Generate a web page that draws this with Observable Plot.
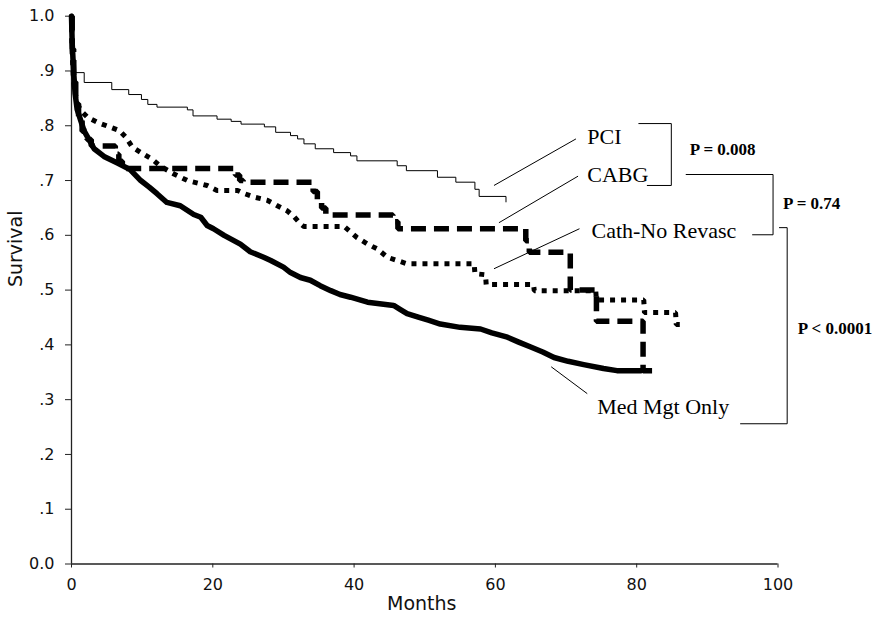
<!DOCTYPE html>
<html>
<head>
<meta charset="utf-8">
<script src="https://cdn.jsdelivr.net/npm/d3@7"></script>
<script src="https://cdn.jsdelivr.net/npm/@observablehq/plot@0.6"></script>
<style>
  html, body { margin: 0; padding: 0; background: #fff; }
</style>
</head>
<body>
<div id="chart"></div>
<script>
// ---- Axis ticks ----
const xTicks = [0, 20, 40, 60, 80, 100];
const yTicks = [0, 0.1, 0.2, 0.3, 0.4, 0.5, 0.6, 0.7, 0.8, 0.9, 1.0];
const yTickLabels = ["0.0", ".1", ".2", ".3", ".4", ".5", ".6", ".7", ".8", ".9", "1.0"];

// ---- PCI (thin solid) ----
const pciMonths   = [0, 0.1, 0.3, 0.6, 1.8, 5.7, 8.1, 9.9, 10.8, 12.1, 16.4, 17.2, 20.6, 22.6, 24.0, 27.3, 28.9, 31.0, 32.0, 32.9, 34.5, 37.1, 39.5, 40.4, 46.1, 47.4, 51.8, 54.4, 57.1, 57.7, 61.5];
const pciSurvival = [1.0, 0.95, 0.92, 0.897, 0.879, 0.866, 0.857, 0.848, 0.839, 0.834, 0.829, 0.818, 0.812, 0.808, 0.803, 0.798, 0.788, 0.782, 0.776, 0.767, 0.758, 0.751, 0.745, 0.736, 0.727, 0.718, 0.706, 0.697, 0.684, 0.671, 0.661];

// ---- CABG (thick dashed) ----
const cabgMonths   = [0, 0.1, 0.3, 0.6, 1.0, 1.5, 2.2, 2.8, 6.2, 6.7, 7.2, 23.2, 23.8, 24.3, 34.2, 34.8, 35.4, 36.0, 45.5, 46.2, 64.3, 64.8, 70.6, 74.3, 80.9, 83.0];
const cabgSurvival = [1.0, 0.94, 0.88, 0.84, 0.81, 0.79, 0.775, 0.763, 0.748, 0.735, 0.722, 0.71, 0.70, 0.697, 0.68, 0.665, 0.65, 0.637, 0.625, 0.612, 0.59, 0.569, 0.50, 0.443, 0.353, 0.353];

// ---- Cath-No Revasc (thick dotted) ----
const cathMonths   = [0, 0.1, 0.3, 0.7, 1.3, 2.3, 3.7, 5.6, 6.8, 7.7, 8.6, 10.1, 11.4, 12.6, 14.5, 16.4, 19.2, 20.6, 23.5, 24.5, 25.8, 27.7, 29.0, 30.5, 31.5, 32.4, 32.9, 38.6, 40.4, 41.9, 43.3, 44.7, 46.1, 47.5, 57.0, 57.1, 58.6, 58.7, 65.4, 65.5, 74.2, 74.3, 81.0, 81.1, 85.5, 85.6, 86.6];
const cathSurvival = [1.0, 0.93, 0.88, 0.845, 0.828, 0.815, 0.806, 0.797, 0.791, 0.779, 0.761, 0.749, 0.739, 0.726, 0.712, 0.700, 0.691, 0.682, 0.682, 0.676, 0.670, 0.664, 0.655, 0.645, 0.634, 0.621, 0.616, 0.616, 0.596, 0.584, 0.575, 0.560, 0.554, 0.548, 0.548, 0.530, 0.528, 0.510, 0.510, 0.499, 0.499, 0.482, 0.482, 0.459, 0.459, 0.437, 0.437];

// ---- Med Mgt Only (thick solid) ----
const medMonths   = [0, 0.1, 0.3, 0.5, 0.8, 1.3, 1.8, 2.6, 3.2, 4.6, 6.5, 8.3, 9.8, 11.0, 12.1, 13.5, 15.4, 17.3, 18.3, 19.2, 20.1, 21.6, 23.9, 25.3, 27.2, 28.2, 30.0, 31.0, 32.4, 33.8, 35.2, 36.7, 38.0, 39.5, 41.9, 45.6, 46.5, 47.5, 49.2, 50.5, 52.2, 55.0, 57.9, 59.5, 61.7, 63.3, 65.0, 66.7, 68.3, 70.3, 72.5, 75.3, 77.2, 80.6];
const medSurvival = [1.0, 0.95, 0.90, 0.86, 0.83, 0.81, 0.79, 0.772, 0.758, 0.744, 0.732, 0.72, 0.70, 0.688, 0.676, 0.66, 0.654, 0.638, 0.633, 0.618, 0.612, 0.600, 0.584, 0.570, 0.560, 0.554, 0.542, 0.532, 0.523, 0.518, 0.508, 0.499, 0.492, 0.487, 0.478, 0.472, 0.465, 0.457, 0.450, 0.445, 0.438, 0.432, 0.429, 0.422, 0.414, 0.405, 0.396, 0.387, 0.377, 0.370, 0.364, 0.357, 0.353, 0.353];

// ---- Curve labels (anchor in data units) ----
const groupNames  = ["PCI", "CABG", "Cath-No Revasc", "Med Mgt Only"];
const groupLabelX = [73.0, 73.0, 73.6, 74.4];
const groupLabelY = [0.767, 0.697, 0.596, 0.274];
// leader lines
const leaderX1 = [59.8, 60.5, 59.8, 67.9];
const leaderY1 = [0.691, 0.623, 0.539, 0.360];
const leaderX2 = [71.4, 71.7, 71.9, 73.0];
const leaderY2 = [0.776, 0.708, 0.612, 0.311];

// ---- P values ----
const pTexts = ["P = 0.008", "P = 0.74", "P < 0.0001"];
const pX = [87.5, 100.7, 102.8];
const pY = [0.747, 0.648, 0.420];
// brackets (four-point polylines)
const bracketX = [[80.3, 84.9, 84.9, 81.5], [87.0, 99.3, 99.3, 96.4], [100.2, 101.3, 101.3, 94.7]];
const bracketY = [[0.804, 0.804, 0.691, 0.691], [0.711, 0.711, 0.601, 0.601], [0.614, 0.614, 0.256, 0.256]];

// ---- build tables ----
const rows = (xs, ys) => xs.map((x, i) => ({month: x, survival: ys[i]}));
const pci = rows(pciMonths, pciSurvival);
const cabg = rows(cabgMonths, cabgSurvival);
const cath = rows(cathMonths, cathSurvival);
const med = rows(medMonths, medSurvival);
const groupLabels = groupNames.map((t, i) => ({t, x: groupLabelX[i], y: groupLabelY[i]}));
const leaders = leaderX1.map((x1, i) => ({x1, y1: leaderY1[i], x2: leaderX2[i], y2: leaderY2[i]}));
const pLabels = pTexts.map((t, i) => ({t, x: pX[i], y: pY[i]}));
const brackets = bracketX.flatMap((xs, b) => xs.map((x, i) => ({b, x, y: bracketY[b][i]})));

const serif = "'Liberation Serif', 'Times New Roman', serif";
const sans = "'DejaVu Sans', 'Liberation Sans', Arial, sans-serif";

const chart = Plot.plot({
  width: 877,
  height: 620,
  marginLeft: 71,
  marginRight: 99.5,
  marginTop: 15.7,
  marginBottom: 56.5,
  x: {domain: [0, 100]},
  y: {domain: [0, 1]},
  style: {fontFamily: sans, fontSize: "16px", color: "#222", background: "#fff"},
  marks: [
    Plot.axisX({ticks: xTicks, tickSize: 4, tickPadding: 10.5, label: null, fontSize: 16, fontFamily: sans, fill: "#111"}),
    Plot.axisY({ticks: yTicks, tickSize: 6, tickPadding: 11, label: null, fontSize: 16, fontFamily: sans, fill: "#111",
      tickFormat: d => yTickLabels[yTicks.findIndex(t => Math.abs(t - d) < 1e-9)]}),
    Plot.ruleX([0], {y1: 0, y2: 1, stroke: "#222", strokeWidth: 1.3}),
    Plot.ruleY([0], {x1: 0, x2: 100, stroke: "#222", strokeWidth: 1.3}),
    Plot.text(["Survival"], {frameAnchor: "left", dx: -56, dy: -3, rotate: -90, fontSize: 19, fontFamily: sans, fill: "#111"}),
    Plot.text(["Months"], {frameAnchor: "bottom", dx: -3, dy: 46, fontSize: 19, fontFamily: sans, fill: "#111"}),

    // curves
    Plot.line(pci, {x: "month", y: "survival", curve: "step-after", stroke: "#000", strokeWidth: 1}),
    Plot.line(med, {x: "month", y: "survival", curve: "linear", stroke: "#000", strokeWidth: 5.5, strokeLinejoin: "round"}),
    Plot.line(cath, {x: "month", y: "survival", curve: "linear", stroke: "#000", strokeWidth: 5, strokeDasharray: "5,6", strokeLinecap: "butt", strokeLinejoin: "miter"}),
    Plot.line(cabg, {x: "month", y: "survival", curve: "step-after", stroke: "#000", strokeWidth: 5.5, strokeDasharray: "15,8", strokeLinecap: "butt", strokeLinejoin: "miter"}),

    // annotations
    Plot.link(leaders, {x1: "x1", y1: "y1", x2: "x2", y2: "y2", stroke: "#000", strokeWidth: 1}),
    Plot.text(groupLabels, {x: "x", y: "y", text: "t", textAnchor: "start", lineAnchor: "bottom", fontFamily: serif, fontSize: 22, fill: "#000"}),
    Plot.line(brackets, {x: "x", y: "y", z: "b", stroke: "#000", strokeWidth: 1}),
    Plot.text(pLabels, {x: "x", y: "y", text: "t", textAnchor: "start", lineAnchor: "bottom", fontFamily: serif, fontSize: 17, fontWeight: "bold", fill: "#000"})
  ]
});
document.getElementById("chart").appendChild(chart);
</script>
</body>
</html>
